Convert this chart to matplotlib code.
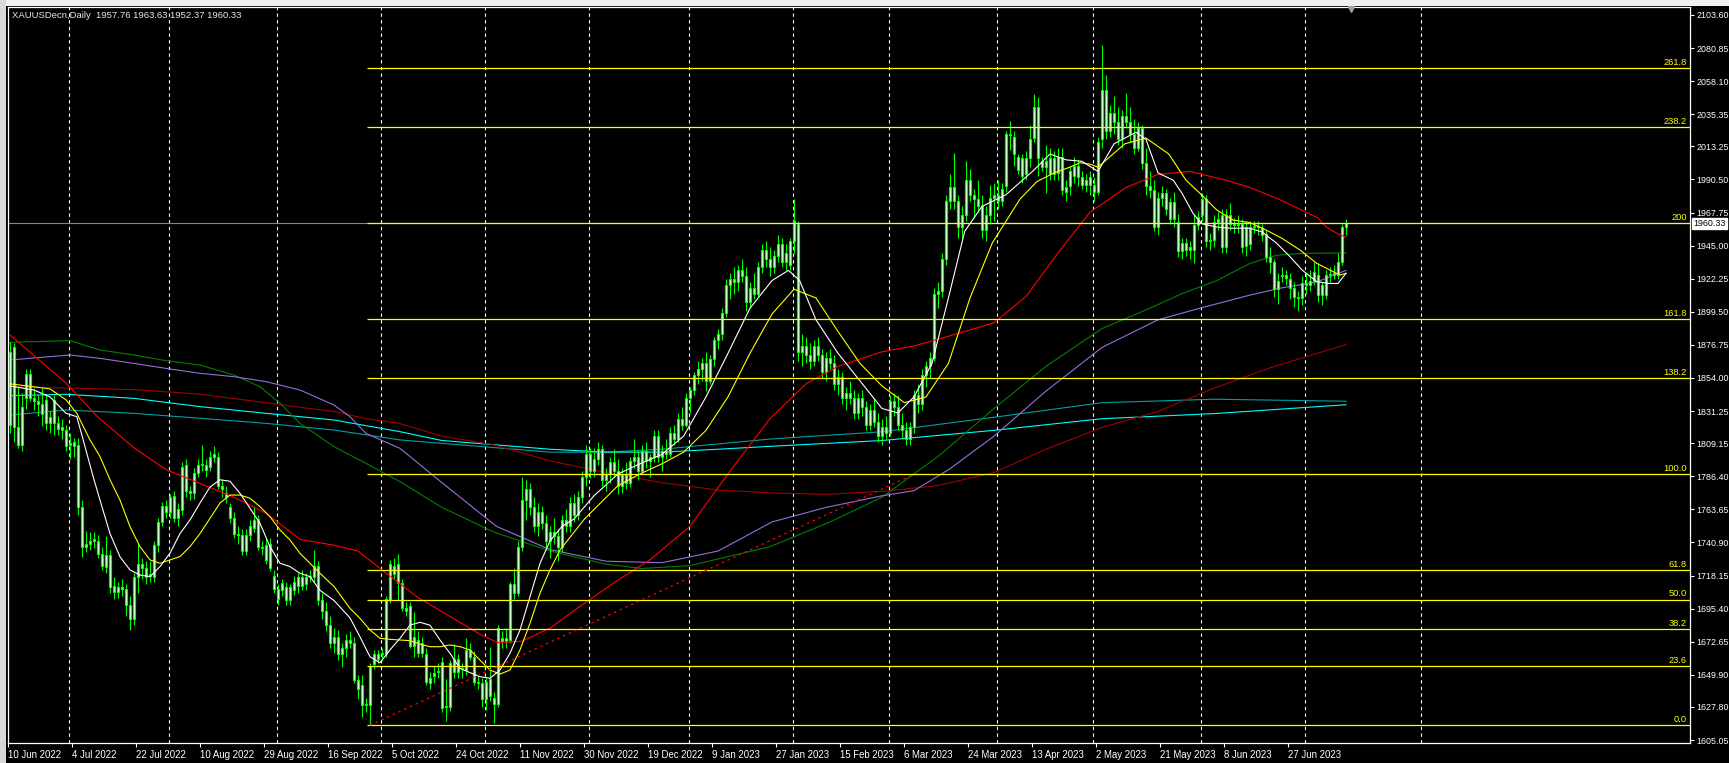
import matplotlib
matplotlib.use('Agg')
import matplotlib.pyplot as plt
import matplotlib.transforms as mtransforms
from matplotlib.patches import Rectangle
import numpy as np

plt.rcParams['font.family'] = ['Liberation Sans', 'DejaVu Sans']

W, H, DPI = 1729, 763, 100

# ---------------- candle data (bar index = position) ----------------
opens = [1822,1875,1820,1808,1840,1857,1840,1838,1836,1823,
         1827,1823,1823,1820,1818,1808,1807,1808,1765,1738,
         1740,1742,1742,1733,1724,1732,1711,1707,1710,1709,
         1698,1688,1717,1726,1723,1719,1717,1739,1755,1766,
         1762,1773,1758,1763,1794,1776,1775,1789,1794,1794,
         1793,1800,1800,1780,1775,1765,1758,1747,1746,1735,
         1746,1751,1757,1738,1739,1740,1718,1709,1708,1710,
         1701,1708,1711,1717,1712,1717,1717,1725,1701,1694,
         1684,1672,1676,1664,1668,1674,1672,1646,1643,1629,
         1629,1657,1661,1664,1664,1701,1725,1726,1713,1696,
         1697,1670,1674,1665,1664,1648,1649,1652,1659,1628,
         1628,1652,1661,1654,1653,1667,1662,1645,1644,1633,
         1647,1634,1630,1675,1673,1674,1712,1706,1738,1770,
         1778,1765,1752,1762,1754,1742,1748,1745,1738,1756,
         1752,1768,1760,1772,1786,1802,1790,1798,1805,1784,
         1788,1796,1790,1780,1788,1782,1797,1800,1790,1804,
         1797,1800,1814,1800,1804,1802,1816,1812,1826,1822,
         1840,1846,1856,1860,1864,1852,1867,1880,1884,1899,
         1918,1922,1920,1928,1924,1906,1916,1912,1930,1942,
         1936,1930,1938,1946,1934,1932,1948,1960,1872,1876,
         1870,1866,1876,1870,1858,1868,1864,1850,1855,1840,
         1844,1840,1830,1840,1834,1822,1832,1824,1814,1820,
         1816,1838,1834,1822,1818,1812,1820,1842,1836,1856,
         1862,1868,1912,1914,1936,1976,1985,1976,1958,1966,
         1990,1980,1977,1972,1956,1966,1978,1980,1976,1986,
         2022,2020,2006,1993,2005,2005,2019,2040,2003,1999,
         2005,1994,2006,2006,1985,1986,1993,2000,1992,1987,
         1992,1987,1982,2018,2052,2024,2036,2030,2018,2034,
         2030,2022,2012,2026,2002,1986,1983,1958,1978,1981,
         1975,1963,1961,1941,1947,1942,1942,1959,1966,1977,
         1948,1949,1961,1966,1944,1966,1960,1959,1960,1945,
         1958,1958,1958,1957,1953,1937,1934,1915,1924,1923,
         1922,1916,1910,1909,1919,1918,1921,1925,1911,1911,
         1925,1925,1925,1934,1957.76]
highs = [1879,1878,1848,1844,1860,1860,1847,1842,1847,1842,
         1831,1842,1828,1826,1822,1816,1813,1813,1770,1749,
         1748,1748,1746,1738,1745,1736,1717,1714,1716,1712,
         1704,1720,1740,1730,1728,1728,1742,1758,1769,1770,
         1774,1776,1768,1796,1798,1780,1792,1798,1808,1798,
         1804,1807,1803,1784,1780,1768,1762,1752,1750,1750,
         1756,1766,1760,1742,1744,1744,1722,1712,1716,1714,
         1712,1718,1720,1722,1720,1722,1736,1728,1706,1700,
         1690,1682,1681,1672,1678,1680,1676,1650,1650,1634,
         1658,1667,1667,1668,1704,1729,1730,1733,1716,1700,
         1700,1693,1680,1676,1668,1652,1656,1658,1662,1647,
         1660,1671,1664,1658,1675,1672,1666,1650,1648,1648,
         1669,1638,1684,1680,1682,1714,1723,1742,1786,1784,
         1782,1772,1768,1766,1760,1752,1758,1750,1760,1764,
         1772,1774,1776,1790,1808,1806,1806,1810,1808,1792,
         1800,1805,1798,1792,1796,1800,1812,1804,1808,1810,
         1802,1818,1818,1808,1812,1820,1822,1830,1834,1844,
         1848,1858,1866,1868,1872,1870,1882,1888,1902,1922,
         1926,1930,1932,1936,1930,1920,1926,1934,1946,1948,
         1944,1942,1952,1950,1946,1950,1977,1962,1884,1882,
         1878,1880,1882,1874,1872,1874,1870,1860,1858,1848,
         1852,1846,1844,1846,1838,1836,1840,1830,1826,1828,
         1842,1844,1842,1830,1824,1824,1846,1850,1860,1866,
         1872,1916,1920,1940,1980,1994,2009,1980,1972,2003,
         1998,1984,1990,1980,1972,1987,1988,1990,1988,2024,
         2031,2024,2008,2008,2010,2028,2049,2047,2006,2014,
         2012,2010,2012,2012,1990,2000,2006,2004,1996,1994,
         1996,1992,2020,2083,2062,2042,2048,2040,2038,2050,
         2040,2032,2030,2028,2012,1996,1990,1982,1986,1984,
         1978,1982,1967,1950,1950,1948,1967,1969,1981,1980,
         1954,1966,1968,1970,1970,1974,1964,1966,1963,1962,
         1962,1962,1962,1960,1956,1944,1936,1926,1930,1928,
         1926,1920,1914,1924,1926,1928,1934,1933,1920,1928,
         1930,1932,1940,1960,1963.63]
lows = [1816,1810,1806,1804,1833,1838,1832,1828,1821,1818,
        1816,1815,1815,1812,1804,1798,1800,1760,1731,1734,
        1736,1737,1730,1722,1720,1706,1702,1703,1704,1690,
        1681,1684,1706,1716,1712,1714,1714,1734,1752,1758,
        1758,1755,1752,1760,1772,1770,1771,1786,1790,1786,
        1790,1796,1778,1772,1768,1754,1744,1740,1732,1732,
        1742,1748,1736,1732,1726,1721,1706,1698,1704,1698,
        1698,1705,1706,1708,1708,1714,1714,1698,1688,1680,
        1668,1665,1660,1655,1662,1668,1644,1633,1621,1624,
        1615.2,1654,1658,1660,1662,1699,1716,1701,1694,1690,
        1668,1662,1662,1662,1643,1640,1644,1648,1624,1618,
        1625,1648,1648,1648,1650,1660,1643,1640,1628,1626,
        1632,1616.5,1628,1668,1668,1672,1702,1704,1735,1756,
        1760,1748,1745,1750,1738,1730,1740,1728,1734,1748,
        1748,1755,1756,1768,1780,1785,1786,1794,1780,1776,
        1782,1786,1774,1775,1778,1779,1792,1784,1788,1792,
        1786,1796,1796,1790,1798,1800,1808,1810,1818,1820,
        1830,1842,1850,1852,1845,1850,1862,1874,1880,1896,
        1908,1912,1914,1920,1900,1902,1908,1910,1926,1930,
        1924,1926,1934,1930,1928,1928,1940,1866,1862,1864,
        1860,1862,1866,1854,1852,1860,1846,1842,1836,1832,
        1836,1826,1826,1828,1818,1818,1820,1810,1808,1812,
        1814,1828,1818,1812,1808,1808,1816,1830,1832,1848,
        1854,1866,1902,1910,1932,1970,1970,1950,1948,1962,
        1976,1964,1968,1950,1948,1960,1962,1970,1972,1982,
        2011,2000,1994,1988,1990,1999,2016,1993,1996,1981,
        1990,1990,1990,1980,1976,1980,1988,1986,1984,1982,
        1980,1976,1980,2012,2018,2020,2022,2014,2012,2026,
        2016,2008,2010,1998,1980,1978,1955,1952,1972,1966,
        1960,1958,1937,1936,1938,1936,1933,1956,1962,1944,
        1942,1944,1956,1940,1940,1956,1954,1954,1940,1938,
        1942,1954,1952,1948,1934,1926,1910,1905,1920,1918,
        1908,1903,1900,1904,1912,1914,1918,1906,1904,1908,
        1920,1922,1922,1932,1952.37]
closes = [1872,1820,1808,1834,1857,1840,1838,1836,1829,1839,
          1823,1839,1819,1818,1807,1809,1810,1765,1738,1740,
          1742,1743,1733,1725,1732,1710,1707,1710,1709,1698,
          1688,1717,1726,1723,1717,1718,1739,1755,1766,1762,
          1772,1758,1764,1793,1776,1775,1789,1794,1794,1791,
          1800,1802,1780,1778,1772,1758,1747,1746,1735,1746,
          1752,1756,1738,1737,1729,1723,1709,1702,1713,1701,
          1710,1714,1717,1711,1717,1718,1725,1701,1694,1684,
          1672,1676,1664,1668,1674,1672,1646,1640,1629,1629,
          1656,1664,1664,1664,1702,1726,1719,1713,1696,1694,
          1670,1676,1665,1672,1645,1644,1651,1652,1627,1628,
          1658,1661,1652,1654,1667,1662,1645,1644,1633,1645,
          1635,1630,1682,1673,1675,1712,1706,1738,1770,1778,
          1765,1752,1762,1754,1742,1748,1745,1738,1756,1752,
          1768,1760,1772,1786,1802,1790,1798,1805,1784,1788,
          1796,1790,1780,1788,1782,1797,1800,1790,1804,1797,
          1800,1814,1800,1804,1802,1816,1812,1826,1822,1840,
          1846,1856,1860,1864,1852,1867,1880,1884,1899,1918,
          1922,1920,1928,1924,1906,1916,1912,1930,1942,1936,
          1930,1938,1946,1934,1940,1948,1962,1872,1876,1870,
          1866,1876,1870,1858,1868,1864,1850,1855,1840,1844,
          1840,1830,1840,1834,1822,1832,1824,1814,1820,1816,
          1838,1834,1822,1818,1812,1820,1842,1836,1856,1862,
          1868,1912,1914,1936,1976,1985,1976,1958,1966,1990,
          1980,1977,1972,1956,1966,1978,1980,1976,1984,2022,
          2021,2008,1997,2005,1994,2018,2040,2005,1999,2003,
          1994,2005,1995,1983,1982,1996,2000,1992,1987,1990,
          1987,1982,2016,2052,2024,2036,2030,2018,2034,2030,
          2022,2012,2026,2002,1986,1983,1958,1978,1981,1970,
          1963,1975,1941,1947,1942,1944,1959,1965,1977,1948,
          1949,1961,1963,1944,1966,1960,1959,1960,1944,1958,
          1946,1958,1958,1952,1937,1934,1915,1921,1925,1925,
          1916,1910,1909,1919,1918,1921,1927,1911,1918,1925,
          1925,1926,1934,1958,1960.33]

# ---------------- moving averages (bar, price) ----------------
white_x = [0,6,10,14,16.7,18.3,20.8,22.5,25,27.5,30,32.5,35,37.5,40,42.5,45,47.5,50,52.5,
           55,57.5,60,62.5,65,67.5,70,72.5,75,77.5,81,85,87.5,90,92.5,95,97.5,100,102.5,105,
           107.5,110,112.5,115,117.5,120,122.5,125,127.5,130,132.5,135,138,141,146,152,157.5,163,168.4,174,
           179.5,185,190.5,194.6,197.4,201.5,207,212.5,218,222,226,230.5,234.6,238.7,243,249,256,260,264,268,
           272,276,281.5,284,287,290.8,293,295.8,298,301.7,305,310,313,316.6,320,323,326.7,330,332,334]
white_y = [1848.5,1845.7,1841,1829.7,1827.4,1811.4,1786,1770,1747,1731,1722,1718.5,1717.4,1724.3,1733.5,1747,1756.4,1768,1779,1784,
           1783,1774.7,1764.4,1754,1738,1726.6,1724.3,1719.7,1717.4,1708,1701,1689,1676,1662.3,1658.2,1667,1675,1684.1,1686,1684,
           1673.8,1664.7,1654.3,1651.4,1648.6,1647.5,1653.2,1664.7,1680.7,1703.6,1726.5,1742,1752,1757,1773,1788,1795,1801.5,1814,1841,
           1871,1902,1921,1928,1921,1894,1871,1852,1833,1830,1841,1864,1909,1955,1972,1980,1997,2008,2004,2003,
           1996,2015,2023,2018,1995,1990,1981,1967,1960,1957.8,1957,1957,1954.4,1946.8,1937.4,1928.3,1920.2,1919,1919,1926]
yellow_x = [0,10,14,16.7,20,22.5,25,27.5,30,32.5,35,37.5,40,42.5,45,47.5,50,52.5,55,57.5,
            60,62.5,65,67.5,70,72.5,75,77.5,81,85,87.5,90,92.5,95,97.5,100,102.5,105,107.5,110,
            112.5,115,117.5,120,122.5,125,127.5,130,132.5,135,137.5,143.6,152,157.5,163,168.4,174,179.5,185,190.5,
            196,201.5,207,212.5,218,223.6,229,234.6,240,245.6,252.5,256.7,261,265,267.5,270,272,278.7,284,289.7,
            294,297.5,301.7,305.8,310,314,318,322.5,326.7,330,332.5,334]
yellow_y = [1850,1846.5,1839,1829.7,1811.4,1800,1784,1770,1751.8,1738,1728.9,1726.6,1728.9,1731.2,1738,1747,1757.5,1768,1773.5,1773.5,
            1771.3,1765.5,1758.6,1749.5,1742.6,1733.4,1726.6,1719.7,1710.6,1695.6,1688.7,1680.7,1675,1674.3,1673.8,1673.4,1671,1669.2,1669.2,1670.4,
            1669.2,1667,1660,1653.2,1650.4,1653.2,1667,1685.3,1706,1722,1735.7,1757,1780,1788,1795,1803,1818,1841,1871,1898,
            1915,1909,1886,1864,1848.5,1837,1841,1864,1909,1947,1977,1989,1995,1999,2002,2001,1999,2015,2019,2008,
            1990,1981,1969.5,1962.6,1960.8,1955.8,1950,1942,1932.8,1928.2,1924.8,1926]
red_x = [0,14,22,31,39,47,56,64,72.5,81,87,93,102,110,118,122,128,135,143,152,
         160,170,180,190,199,207,218,226,235,246,254,262,270,279,287,295,304,310,318,324,
         327,329,332,334]
red_y = [1883.6,1850.5,1827,1806,1791,1782,1772,1761,1743,1739,1735,1722,1703,1690,1677,1672,1673,1682,1698,1715,
         1729,1752,1790,1826,1850,1862,1872,1876,1883,1892,1910,1940,1968,1985,1994,1996,1990,1985,1976,1968,
         1964,1958,1953,1951]
maroon_x = [0,31,47,64,72,81,89,97,108,121,135,149,163,177,190,204,218,232,246,259,273,287,301,315,334]
maroon_y = [1848,1846,1843,1837,1834,1831,1826,1823,1814,1808,1797,1789,1782,1777,1775,1774,1776,1780,1789,1805,
            1820,1831,1847,1861,1877]
green_x = [0,15,22.5,31,39,47.5,56,62.5,67.5,72.5,81,89,97.5,108,121,135,149,158,170,190,
           205,218,232,246,259,273,285,293,301.7,310,316.6,323,334]
green_y = [1878.5,1879.7,1873.2,1869.8,1865.9,1862.9,1856,1848,1836.6,1822.8,1806.8,1795.3,1782.7,1765,1748,1735,1726,1723,1725,1738,
           1755,1772,1800,1833,1862,1888,1902,1912,1921,1932.8,1938.4,1939.7,1940]
purple_x = [0,15,22.5,31,39,47.5,56,64,72.5,81,85,89,97.5,108,121.6,135,149,163,177,190.5,
            204,218,226,235,246,259,273,287,297.5,310,318,326.7,334]
purple_y = [1866.4,1869.8,1867.5,1864,1860.6,1857.2,1854.9,1851.5,1845.7,1835.4,1827.4,1815.9,1805.6,1782,1752,1736,1728,1727,1735,1755,
            1765,1773,1776.5,1791.6,1814,1845,1875,1894,1902,1911,1916,1920,1928]
cyan_x = [0,14,31,47.5,64,81,97.5,108,135,149,163,177,190,218,246,273,301,334]
cyan_y = [1841.8,1842.8,1840,1834.3,1829.7,1825.1,1817.1,1811,1805,1803,1803,1805,1807,1811,1818,1826,1829.5,1835.6]
teal_x = [0,14,31,47.5,64,81,97.5,135,149,163,190,218,246,273,301,334]
teal_y = [1828.5,1832,1829.7,1826.3,1822.8,1818.2,1811.4,1803,1803,1805,1812,1817,1827,1837,1839.4,1838]

# ---------------- fibonacci object ----------------
fib_price_0 = 1615.2
fib_price_100 = 1787.8
fib_levels = [0.0, 23.6, 38.2, 50.0, 61.8, 100.0, 138.2, 161.8, 200.0, 238.2, 261.8]
fib_texts = ["0.0", "23.6", "38.2", "50.0", "61.8", "100.0", "138.2", "161.8", "200", "238.2", "261.8"]
fib_start_bar = 89.3
fib_trend_bars = [90, 226]

# ---------------- axes texts ----------------
x_labels = ["10 Jun 2022", "4 Jul 2022", "22 Jul 2022", "10 Aug 2022", "29 Aug 2022", "16 Sep 2022",
            "5 Oct 2022", "24 Oct 2022", "11 Nov 2022", "30 Nov 2022", "19 Dec 2022", "9 Jan 2023",
            "27 Jan 2023", "15 Feb 2023", "6 Mar 2023", "24 Mar 2023", "13 Apr 2023", "2 May 2023",
            "21 May 2023", "8 Jun 2023", "27 Jun 2023"]
label_step = 16
month_grid_bars = [14.75, 39.75, 66.75, 92.75, 118.75, 144.75, 169.75, 195.75, 219.75,
                   246.75, 270.75, 297.75, 323.75, 352.75]
y_ticks = [2103.60, 2080.85, 2058.10, 2035.35, 2013.25, 1990.50, 1967.75, 1945.00, 1922.25,
           1899.50, 1876.75, 1854.00, 1831.25, 1809.15, 1786.40, 1763.65, 1740.90, 1718.15,
           1695.40, 1672.65, 1649.90, 1627.80, 1605.05]
symbol_title = "XAUUSDecn,Daily  1957.76 1963.63 1952.37 1960.33"
last_price = 1960.33

# ---------------- figure ----------------
fig = plt.figure(figsize=(W / DPI, H / DPI), dpi=DPI, facecolor='black')
ax = fig.add_axes([8 / W, 20 / H, 1682 / W, 736 / H])
ax.set_facecolor('black')
ax.set_xlim(-0.5, 420)
ax.set_ylim(1603.0, 2109.1)

# window chrome (grey strips)
fig.patches.append(Rectangle((0, 1 - 6 / H), 1, 6 / H, transform=fig.transFigure,
                             facecolor='#f0f0f0', edgecolor='none', zorder=0))
fig.patches.append(Rectangle((0, 0), 6 / W, 1, transform=fig.transFigure,
                             facecolor='#d8d8d8', edgecolor='none', zorder=0))

# vertical dashed grid
for g in month_grid_bars:
    ax.axvline(g, color='white', lw=0.8, ls=(0, (3, 3)), zorder=1)

# bid line
ax.axhline(last_price, color='#778899', lw=0.8, zorder=1.5)

# moving averages
ma_lw = 0.8
ax.plot(teal_x, teal_y, color='#00a0a0', lw=ma_lw, zorder=2)
ax.plot(cyan_x, cyan_y, color='#00ffff', lw=ma_lw, zorder=2)
ax.plot(maroon_x, maroon_y, color='#a00000', lw=ma_lw, zorder=2)
ax.plot(green_x, green_y, color='#008000', lw=ma_lw, zorder=2)
ax.plot(purple_x, purple_y, color='#9370db', lw=ma_lw, zorder=2)

# candles
idx = np.arange(len(closes))
o = np.array(opens, float); h = np.array(highs, float)
l = np.array(lows, float); c = np.array(closes, float)
ax.vlines(idx, l, h, color='#00ff00', lw=0.8, zorder=3)
bottom = np.minimum(o, c)
height = np.maximum(np.abs(c - o), 0.7)
ax.bar(idx, height, bottom=bottom, width=0.6, color='#f4fff4', edgecolor='#00ff00',
       linewidth=0.85, zorder=4)

ax.plot(red_x, red_y, color='#ff0000', lw=ma_lw, zorder=5)
ax.plot(yellow_x, yellow_y, color='#ffff00', lw=ma_lw, zorder=5)
ax.plot(white_x, white_y, color='#ffffff', lw=ma_lw, zorder=5)

# fibonacci levels
rng = fib_price_100 - fib_price_0
for lev, txt in zip(fib_levels, fib_texts):
    p = fib_price_0 + rng * lev / 100.0
    ax.plot([fib_start_bar, 420], [p, p], color='#ffff00', lw=0.9, zorder=6, solid_capstyle='butt')
    ax.text(419.2, p + 0.9, txt, color='#ffff00', fontsize=6.7, ha='right', va='bottom', zorder=7)
ax.plot(fib_trend_bars, [fib_price_0, fib_price_100], color='#ff0000', lw=0.9,
        ls=(0, (2, 3)), zorder=6)

# axes styling
for s in ax.spines.values():
    s.set_color('white')
    s.set_linewidth(0.9)
ax.yaxis.tick_right()
ax.set_yticks(y_ticks)
ax.set_yticklabels([f"{v:.2f}" for v in y_ticks])
ax.tick_params(axis='y', colors='white', labelcolor='white', direction='out', length=3,
               width=0.8, pad=1.5, labelsize=6.4)
xt = [label_step * k - 0.5 for k in range(len(x_labels))]
ax.set_xticks(xt)
ax.set_xticklabels(x_labels)
for lab in ax.get_xticklabels():
    lab.set_horizontalalignment('left')
ax.tick_params(axis='x', colors='white', labelcolor='white', direction='out', length=3,
               width=0.8, pad=2, labelsize=6.9)

# last price tag
trans = mtransforms.blended_transform_factory(ax.transAxes, ax.transData)
ax.text(1.0022, last_price, f"{last_price:.2f}", transform=trans, color='black', fontsize=6.4,
        ha='left', va='center', zorder=10, clip_on=False,
        bbox=dict(boxstyle='square,pad=0.15', facecolor='white', edgecolor='white'))

# shift marker
ax.plot([335.2], [2109.1 - 1.6], marker='v', color='#a0a0a0', ms=5, zorder=8, clip_on=False)

# title
ax.text(4 / 1682, 1 - 8 / 736, symbol_title, transform=ax.transAxes, color='#e8e8e8',
        fontsize=6.8, ha='left', va='center', zorder=9)

fig.savefig('out.png', dpi=DPI, facecolor='black')
